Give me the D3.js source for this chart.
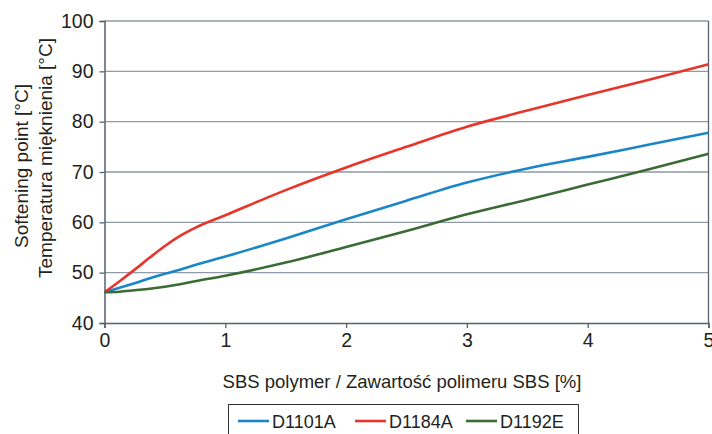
<!DOCTYPE html>
<html>
<head>
<meta charset="utf-8">
<script src="https://cdn.jsdelivr.net/npm/d3@7"></script>
<style>
  body { margin: 0; background: #fff; }
  svg { display: block; font-family: "Liberation Sans", Arial, sans-serif; }
</style>
</head>
<body>
<div id="chart"></div>
<script>
// polymer content [%]
const sbsContent = [0, 0.125, 0.25, 0.375, 0.5, 0.625, 0.75, 1, 1.5, 2, 2.5, 3, 3.5, 4, 4.5, 5];
// softening point [°C] per polymer
const d1101a = [46.1, 47.0, 47.9, 48.9, 49.8, 50.6, 51.5, 53.2, 56.8, 60.6, 64.3, 67.9, 70.7, 73.0, 75.4, 77.8];
const d1184a = [46.1, 48.3, 50.6, 53.0, 55.3, 57.3, 58.9, 61.4, 66.4, 70.9, 75.0, 79.0, 82.2, 85.3, 88.3, 91.4];
const d1192e = [46.1, 46.2, 46.5, 46.8, 47.2, 47.7, 48.3, 49.4, 52.0, 55.1, 58.3, 61.6, 64.5, 67.5, 70.5, 73.6];
const seriesNames = ['D1101A', 'D1184A', 'D1192E'];
const xTicks = [0, 1, 2, 3, 4, 5];
const yTicks = [40, 50, 60, 70, 80, 90, 100];

const colors = ['#1a86c8', '#e8352b', '#3a6b35'];
const seriesValues = [d1101a, d1184a, d1192e];

const width = 712, height = 434;
const margin = { left: 104.5, right: 3.5, top: 21, bottom: 111 };

const svg = d3.select('#chart').append('svg')
  .attr('width', width)
  .attr('height', height);

const x = d3.scaleLinear().domain([0, 5]).range([margin.left, width - margin.right]);
const y = d3.scaleLinear().domain([40, 100]).range([height - margin.bottom, margin.top]);

const textColor = '#231f20';
const gridColor = '#8e9aa5';
const axisColor = '#56626c';

// horizontal grid
svg.append('g')
  .selectAll('line')
  .data(yTicks.filter(d => d > 40))
  .enter().append('line')
  .attr('x1', x(0)).attr('x2', x(5))
  .attr('y1', d => y(d)).attr('y2', d => y(d))
  .attr('stroke', gridColor)
  .attr('stroke-width', 1.3);

// right border
svg.append('line')
  .attr('x1', x(5)).attr('x2', x(5))
  .attr('y1', y(100)).attr('y2', y(40))
  .attr('stroke', axisColor)
  .attr('stroke-width', 1.3);

// y axis
const yAxis = svg.append('g')
  .attr('transform', 'translate(' + x(0) + ',0)')
  .call(d3.axisLeft(y).tickValues(yTicks).tickSize(5).tickPadding(6).tickFormat(d3.format('d')));
yAxis.select('.domain').attr('stroke', axisColor).attr('stroke-width', 1.5);
yAxis.selectAll('.tick line').attr('stroke', axisColor).attr('stroke-width', 1.3);
yAxis.selectAll('text')
  .attr('fill', textColor)
  .style('font-size', '19.5px')
  .style('font-family', '"Liberation Sans", Arial, sans-serif');

// x axis
const xAxis = svg.append('g')
  .attr('transform', 'translate(0,' + y(40) + ')')
  .call(d3.axisBottom(x).tickValues(xTicks).tickSize(5).tickPadding(5).tickFormat(d3.format('d')));
xAxis.select('.domain').attr('stroke', axisColor).attr('stroke-width', 1.5);
xAxis.selectAll('.tick line').attr('stroke', axisColor).attr('stroke-width', 1.3);
xAxis.selectAll('text')
  .attr('fill', textColor)
  .style('font-size', '19.5px')
  .style('font-family', '"Liberation Sans", Arial, sans-serif');

// lines
const line = d3.line()
  .x((d, i) => x(sbsContent[i]))
  .y(d => y(d))
  .curve(d3.curveMonotoneX);

svg.append('g')
  .selectAll('path')
  .data(seriesValues)
  .enter().append('path')
  .attr('d', line)
  .attr('fill', 'none')
  .attr('stroke', (d, i) => colors[i])
  .attr('stroke-width', 2.6);

// axis titles
svg.append('text')
  .attr('x', 402)
  .attr('y', 388)
  .attr('text-anchor', 'middle')
  .attr('fill', textColor)
  .style('font-size', '18.5px')
  .text('SBS polymer / Zawartość polimeru SBS [%]');

svg.append('text')
  .attr('transform', 'translate(28,166) rotate(-90)')
  .attr('text-anchor', 'middle')
  .attr('fill', textColor)
  .style('font-size', '19px')
  .text('Softening point [°C]');

svg.append('text')
  .attr('transform', 'translate(52,158) rotate(-90)')
  .attr('text-anchor', 'middle')
  .attr('fill', textColor)
  .style('font-size', '19px')
  .text('Temperatura mięknienia [°C]');

// legend
const legend = svg.append('g');
legend.append('rect')
  .attr('x', 228.5).attr('y', 404.5)
  .attr('width', 350).attr('height', 40)
  .attr('fill', '#fff')
  .attr('stroke', '#333')
  .attr('stroke-width', 1);

const legendX = [238, 355, 466];
const items = legend.selectAll('g.item')
  .data(seriesNames)
  .enter().append('g')
  .attr('class', 'item')
  .attr('transform', (d, i) => 'translate(' + legendX[i] + ',421)');
items.append('line')
  .attr('x1', 0).attr('x2', 31)
  .attr('stroke', (d, i) => colors[i])
  .attr('stroke-width', 2.6);
items.append('text')
  .attr('x', 34)
  .attr('y', 6.5)
  .attr('fill', textColor)
  .style('font-size', '18px')
  .text(d => d);
</script>
</body>
</html>
